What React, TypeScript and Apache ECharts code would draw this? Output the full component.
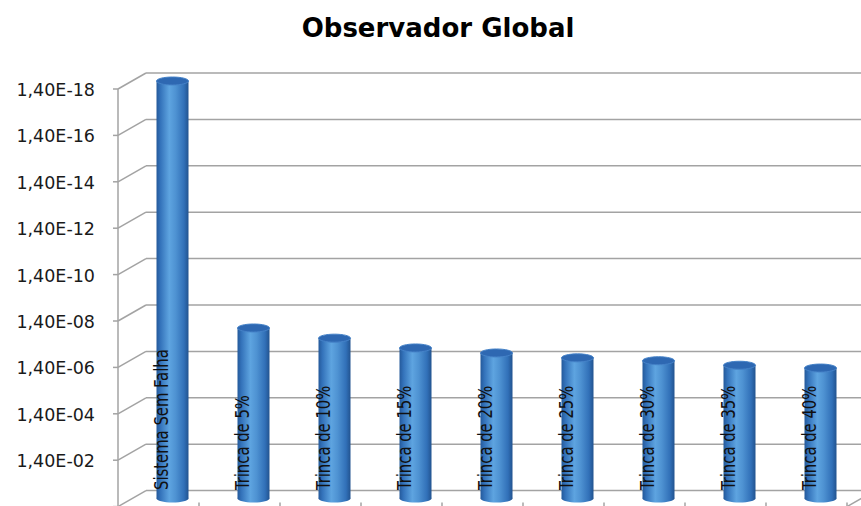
import React, { useEffect, useRef } from "react";
import * as echarts from "echarts";

const chartTitle = "Observador Global";
const categories = [
  "Sistema Sem Falha",
  "Trinca de 5%",
  "Trinca de 10%",
  "Trinca de 15%",
  "Trinca de 20%",
  "Trinca de 25%",
  "Trinca de 30%",
  "Trinca de 35%",
  "Trinca de 40%",
];
const values = [1.4e-18, 6.2e-8, 1.7e-7, 4.5e-7, 7.4e-7, 1.2e-6, 1.6e-6, 2.5e-6, 3.3e-6];
const tickMantissa = 1.4;
const tickExponents = [-18, -16, -14, -12, -10, -8, -6, -4, -2, 0];
const axisMin = 1.4e-18;
const axisMax = 1.4;

const fmt = (m: number, e: number) =>
  m.toFixed(2).replace(".", ",") + "E" + (e < 0 ? "-" : "+") + String(Math.abs(e)).padStart(2, "0");

export default function App() {
  const ref = useRef<HTMLDivElement>(null);
  useEffect(() => {
    const chart = echarts.init(ref.current!, null, { renderer: "svg" });
    const sideGrad = () =>
      new echarts.graphic.LinearGradient(0, 0, 1, 0, [
        { offset: 0, color: "#24599a" },
        { offset: 0.12, color: "#3372ba" },
        { offset: 0.4, color: "#5ea4e0" },
        { offset: 0.6, color: "#4e92d2" },
        { offset: 0.86, color: "#3170b8" },
        { offset: 1, color: "#22538f" },
      ]);
    const W = 32;
    const RY = 4;
    chart.setOption({
      animation: false,
      title: {
        text: chartTitle,
        left: 433,
        top: 10,
        textAlign: "center",
        textStyle: { fontFamily: "DejaVu Sans", fontWeight: "bold", fontSize: 26, color: "#000" },
      },
      grid: { left: 132, right: 0, top: 81, bottom: 7.4 },
      xAxis: { type: "category", data: categories, show: false },
      yAxis: { type: "log", inverse: true, min: axisMin, max: axisMax, show: false },
      series: [
        {
          type: "custom",
          z: 5,
          encode: { x: 0, y: 1 },
          data: values.map((v, i) => [i, v]),
          renderItem: (params: any, api: any) => {
            const idx = api.value(0);
            const v = api.value(1);
            const top = api.coord([idx, v]);
            const bot = api.coord([idx, axisMax]);
            return {
              type: "group",
              children: [
                {
                  type: "ellipse",
                  shape: { cx: bot[0], cy: bot[1], rx: W / 2, ry: RY },
                  style: { fill: sideGrad() },
                },
                {
                  type: "rect",
                  shape: { x: top[0] - W / 2, y: top[1], width: W, height: bot[1] - top[1] },
                  style: { fill: sideGrad() },
                },
                {
                  type: "ellipse",
                  shape: { cx: top[0], cy: top[1], rx: W / 2, ry: RY },
                  style: { fill: "#2e68b2", stroke: "#4582c8", lineWidth: 1 },
                },
              ],
            };
          },
        },
      ],
    });

    const dx = 14;
    const dy = 8;
    const gridColor = "#a3a3a3";
    const g: any[] = [];
    const frontX = 118;
    const backX = frontX + 2 * dx;
    let topFront = 0;
    tickExponents.forEach((e) => {
      const val = tickMantissa * Math.pow(10, e);
      const ym = chart.convertToPixel({ yAxisIndex: 0 }, val) as number;
      const fy = ym + dy;
      const by = ym - dy;
      if (e === tickExponents[0]) topFront = fy;
      g.push({ type: "line", z: -10, shape: { x1: frontX - 5, y1: fy, x2: frontX, y2: fy }, style: { stroke: gridColor, lineWidth: 1.5 } });
      g.push({ type: "line", z: -10, shape: { x1: frontX, y1: fy, x2: backX, y2: by }, style: { stroke: gridColor, lineWidth: 1.5 } });
      g.push({ type: "line", z: -10, shape: { x1: backX, y1: by, x2: 861, y2: by }, style: { stroke: gridColor, lineWidth: 1.5 } });
      if (fy < 500) {
        g.push({
          type: "text",
          z: 10,
          x: 95,
          y: fy + 1,
          style: {
            text: fmt(tickMantissa, e),
            textAlign: "right",
            textVerticalAlign: "middle",
            font: "17.5px 'DejaVu Sans'",
            fill: "#1a1a1a",
          },
        });
      }
    });
    const bottomMid = chart.convertToPixel({ yAxisIndex: 0 }, axisMax) as number;
    const bottomFront = bottomMid + dy;
    g.push({ type: "line", z: -10, shape: { x1: frontX, y1: topFront, x2: frontX, y2: 506 }, style: { stroke: gridColor, lineWidth: 1.5 } });
    categories.forEach((c, i) => {
      const cx = chart.convertToPixel({ xAxisIndex: 0 }, i) as number;
      const band = (chart.convertToPixel({ xAxisIndex: 0 }, 1) as number) - (chart.convertToPixel({ xAxisIndex: 0 }, 0) as number);
      const fx = cx - dx;
      const bx = fx + band / 2;
      g.push({ type: "line", z: -10, shape: { x1: bx, y1: bottomFront - 4, x2: bx, y2: bottomFront }, style: { stroke: gridColor, lineWidth: 1.5 } });
      if (i === categories.length - 1) {
        g.push({ type: "line", z: -10, shape: { x1: bx, y1: bottomFront, x2: bx + 2 * dx, y2: bottomFront - 2 * dy }, style: { stroke: gridColor, lineWidth: 1.5 } });
      }
      g.push({
        type: "text",
        z: 20,
        x: fx + 2,
        y: 490,
        rotation: Math.PI / 2,
        scaleX: 0.845,
        style: {
          text: c,
          textAlign: "left",
          textVerticalAlign: "middle",
          font: "19.5px 'DejaVu Sans Condensed', sans-serif",
          fill: "#111",
        },
      });
    });
    chart.setOption({ graphic: g });
    return () => chart.dispose();
  }, []);
  return <div ref={ref} style={{ position: "absolute", left: 0, top: 0, width: 861, height: 506 }} />;
}
